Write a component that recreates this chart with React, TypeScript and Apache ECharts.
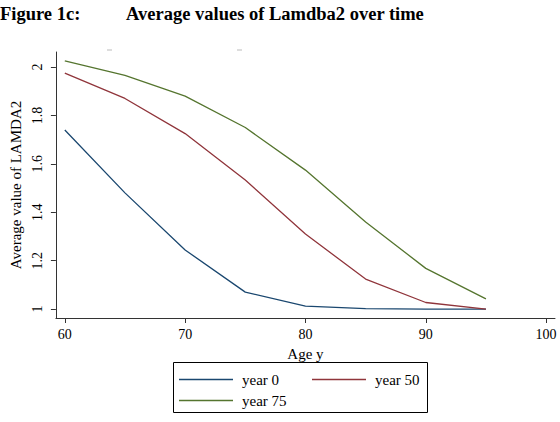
import React, { useEffect, useRef } from "react";
import * as echarts from "echarts";

const ages = [60, 65, 70, 75, 80, 85, 90, 95];
const year0 = [1.74, 1.48, 1.244, 1.07, 1.012, 1.002, 1.0, 1.0];
const year50 = [1.975, 1.87, 1.725, 1.533, 1.31, 1.124, 1.027, 1.0];
const year75 = [2.025, 1.965, 1.88, 1.75, 1.574, 1.36, 1.168, 1.042];
const xTicks = [60, 70, 80, 90, 100];
const yTicks = [1, 1.2, 1.4, 1.6, 1.8, 2];
const seriesNames = ["year 0", "year 50", "year 75"];
const colors = ["#1a476f", "#90353b", "#55752f"];

const FONT = "Liberation Serif";

export default function App() {
  const ref = useRef<HTMLDivElement>(null);
  useEffect(() => {
    if (!ref.current) return;
    const chart = echarts.init(ref.current, undefined, { renderer: "svg" });
    const pair = (ys: number[]) => ages.map((a, i) => [a, ys[i]]);
    const data = [year0, year50, year75];
    const legendPos = [
      { left: 179, top: 372 },
      { left: 312, top: 372 },
      { left: 179, top: 393 },
    ];
    chart.setOption({
      animation: false,
      backgroundColor: "#ffffff",
      textStyle: { fontFamily: FONT },
      grid: { left: 48, right: 5, top: 52, bottom: 104 },
      xAxis: {
        type: "value",
        min: 59.26,
        max: 100.74,
        name: "Age y",
        nameLocation: "middle",
        nameGap: 28,
        nameTextStyle: { fontFamily: FONT, fontSize: 15, color: "#000" },
        axisLine: { show: true, lineStyle: { color: "#333", width: 1 } },
        axisTick: { show: true, length: 5, customValues: xTicks, lineStyle: { color: "#333" } },
        axisLabel: { customValues: xTicks, fontFamily: FONT, fontSize: 14, color: "#000", margin: 9 },
        splitLine: { show: false },
      },
      yAxis: {
        type: "value",
        min: 0.963,
        max: 2.062,
        name: "Average value of LAMDA2",
        nameLocation: "middle",
        nameGap: 32,
        nameRotate: 90,
        nameTextStyle: { fontFamily: FONT, fontSize: 15, color: "#000" },
        axisLine: { show: true, lineStyle: { color: "#333", width: 1 } },
        axisTick: { show: true, length: 5, customValues: yTicks, lineStyle: { color: "#333" } },
        axisLabel: {
          customValues: yTicks,
          rotate: 90,
          fontFamily: FONT,
          fontSize: 14,
          color: "#000",
          margin: 11,
          formatter: (v: number) => String(Math.round(v * 10) / 10),
        },
        splitLine: { show: false },
      },
      legend: seriesNames.map((n, i) => ({
        data: [n],
        left: legendPos[i].left,
        top: legendPos[i].top,
        padding: 0,
        icon: "rect",
        itemWidth: 54,
        itemHeight: 1.5,
        itemGap: 0,
        textStyle: { fontFamily: FONT, fontSize: 15, color: "#000", padding: [0, 0, 0, 4] },
      })),
      series: seriesNames.map((n, i) => ({
        name: n,
        type: "line",
        data: pair(data[i]),
        symbol: "none",
        lineStyle: { color: colors[i], width: 1.3 },
        itemStyle: { color: colors[i] },
      })),
      graphic: [
        {
          type: "text",
          x: 0,
          y: 4,
          style: { text: "Figure 1c:", font: `bold 18.5px "${FONT}"`, fill: "#000", textVerticalAlign: "top" },
        },
        {
          type: "text",
          x: 126,
          y: 4,
          style: { text: "Average values of Lamdba2 over time", font: `bold 18.5px "${FONT}"`, fill: "#000", textVerticalAlign: "top" },
        },
        {
          type: "rect",
          shape: { x: 173.5, y: 362.5, width: 254, height: 50 },
          style: { fill: "none", stroke: "#000", lineWidth: 1 },
        },
        {
          type: "line",
          shape: { x1: 107, y1: 50, x2: 112, y2: 50 },
          style: { stroke: "#bbb", lineWidth: 1 },
        },
        {
          type: "line",
          shape: { x1: 237, y1: 50, x2: 242, y2: 50 },
          style: { stroke: "#bbb", lineWidth: 1 },
        },
      ],
    });
    return () => chart.dispose();
  }, []);
  return <div ref={ref} style={{ position: "fixed", left: 0, top: 0, width: 560, height: 422 }} />;
}
